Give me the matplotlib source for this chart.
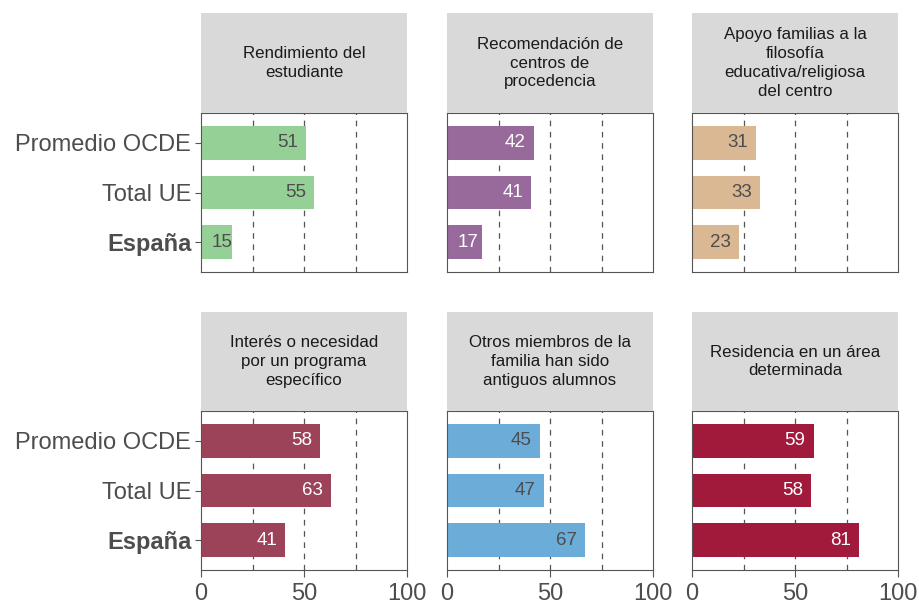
import matplotlib
matplotlib.use("Agg")
import matplotlib.pyplot as plt

plt.rcParams['font.family'] = ['Liberation Sans', 'DejaVu Sans']

categories = ["Promedio OCDE", "Total UE", "España"]
titles = [
    "Rendimiento del\nestudiante",
    "Recomendación de\ncentros de\nprocedencia",
    "Apoyo familias a la\nfilosofía\neducativa/religiosa\ndel centro",
    "Interés o necesidad\npor un programa\nespecífico",
    "Otros miembros de la\nfamilia han sido\nantiguos alumnos",
    "Residencia en un área\ndeterminada",
]
values = [
    [51, 55, 15],
    [42, 41, 17],
    [31, 33, 23],
    [58, 63, 41],
    [45, 47, 67],
    [59, 58, 81],
]
colors = ["#95d196", "#976a9b", "#dab893", "#9c4259", "#6badd8", "#a11a3c"]
label_colors = ["#4d4d4d", "white", "#4d4d4d", "white", "#4d4d4d", "white"]
xticks = [0, 50, 100]
grid_lines = [25, 50, 75]

W, H = 919, 604
fig = plt.figure(figsize=(W / 100, H / 100), dpi=100)

col_x = [201, 447, 692]
pw = 206
rows = [(13, 113, 272), (312, 411, 570)]

for i in range(6):
    r, c = divmod(i, 3)
    st, pt, pb = rows[r]
    x0 = col_x[c]
    ax = fig.add_axes([x0 / W, 1 - pb / H, pw / W, (pb - pt) / H])
    sax = fig.add_axes([x0 / W, 1 - pt / H, pw / W, (pt - st) / H])
    sax.set_facecolor("#d9d9d9")
    sax.set_xticks([]); sax.set_yticks([])
    for s in sax.spines.values():
        s.set_visible(False)
    sax.text(0.5, 0.5, titles[i], ha="center", va="center", fontsize=12.2,
             color="#1a1a1a", transform=sax.transAxes, linespacing=1.33)

    ypos = list(range(len(categories)))
    for g in grid_lines:
        ax.axvline(g, color="#555555", lw=0.9, ls=(0, (4.5, 4.5)), zorder=1)
    ax.barh(ypos, values[i], height=0.68, color=colors[i], zorder=2)
    for y, v in zip(ypos, values[i]):
        ax.text(max(v - 9, 10), y, str(v), ha="center", va="center",
                fontsize=13.5, color=label_colors[i], zorder=3)
    ax.set_xlim(0, 100)
    ax.set_ylim(2.6, -0.6)
    for s in ax.spines.values():
        s.set_color("#555555"); s.set_linewidth(0.8)
    ax.set_yticks(ypos)
    if c == 0:
        ax.set_yticklabels(categories, fontsize=17, color="#4d4d4d")
        ax.get_yticklabels()[2].set_fontweight("bold")
        ax.tick_params(axis="y", length=4, color="#555555", pad=3)
    else:
        ax.set_yticklabels([])
        ax.tick_params(axis="y", length=0)
    ax.set_xticks(xticks)
    if r == 1:
        ax.set_xticklabels([str(t) for t in xticks], fontsize=17, color="#4d4d4d")
        ax.tick_params(axis="x", length=5, color="#555555", pad=4)
    else:
        ax.set_xticklabels([])
        ax.tick_params(axis="x", length=0)

fig.savefig("out.png", dpi=100)
